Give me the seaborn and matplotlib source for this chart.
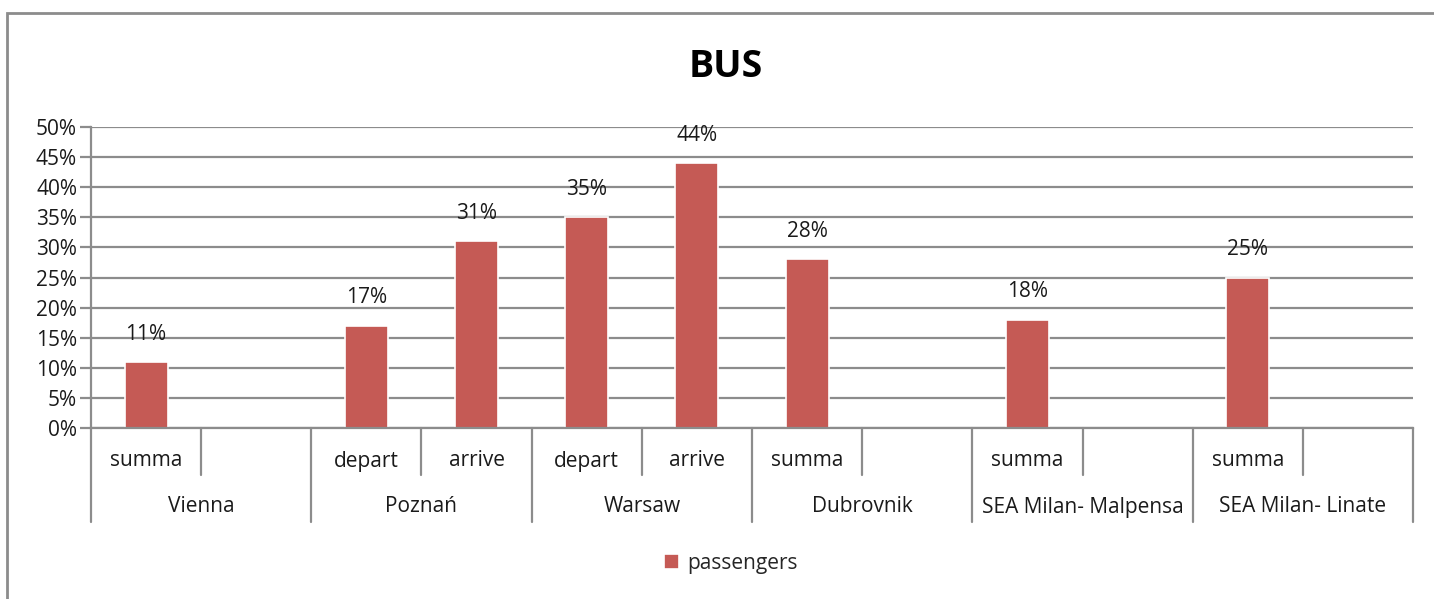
import pandas as pd
import seaborn as sns
import matplotlib as mpl
from matplotlib import pyplot as plt
from matplotlib.patches import Rectangle
from matplotlib.lines import Line2D

groups = ['Vienna', 'Poznań', 'Warsaw', 'Dubrovnik', 'SEA Milan- Malpensa', 'SEA Milan- Linate']
sub_labels = [['summa', ''], ['depart', 'arrive'], ['depart', 'arrive'],
              ['summa', ''], ['summa', ''], ['summa', '']]
bar_group = ['Vienna', 'Poznań', 'Poznań', 'Warsaw', 'Warsaw', 'Dubrovnik', 'SEA Milan- Malpensa', 'SEA Milan- Linate']
bar_sub = ['summa', 'depart', 'arrive', 'depart', 'arrive', 'summa', 'summa', 'summa']
passengers = [11, 17, 31, 35, 44, 28, 18, 25]

sns.set_style('white')
plt.rcParams['font.family'] = ['Open Sans', 'DejaVu Sans']

W, H = 1434, 599
fig = plt.figure(figsize=(W / 100, H / 100), dpi=100)
ax = fig.add_axes([91 / W, (H - 428) / H, (1413 - 91) / W, (428 - 127) / H])

# one slot per (group, sub) pair, empty slots kept via order
order = []
for g, subs in zip(groups, sub_labels):
    for i, s in enumerate(subs):
        order.append(g + '|' + (s if s else 'blank%d' % i))
df = pd.DataFrame({'slot': [g + '|' + s for g, s in zip(bar_group, bar_sub)],
                   'value': passengers})

red = '#C55A55'
sns.barplot(data=df, x='slot', y='value', order=order, color=red, saturation=1,
            width=0.39, edgecolor='white', linewidth=1.2, label='passengers', ax=ax)
if ax.get_legend() is not None:
    ax.get_legend().remove()

fs = 15
tc = '#1a1a1a'
ax.set_ylim(0, 50)
ax.set_xlim(-0.5, len(order) - 0.5)
ax.set_yticks(range(0, 51, 5))
ax.set_yticklabels(['%d%%' % v for v in range(0, 51, 5)], fontsize=fs, color=tc)
ax.yaxis.grid(True, color='#8c8c8c', linewidth=1.6)
ax.set_axisbelow(True)
ax.tick_params(axis='y', length=8, width=1.6, color='#8c8c8c', pad=2, left=True)
ax.tick_params(axis='x', bottom=False, labelbottom=False)
for side in ['top', 'right']:
    ax.spines[side].set_visible(False)
ax.spines['left'].set_color('#8c8c8c')
ax.spines['left'].set_linewidth(1.6)
ax.spines['bottom'].set_color('#8c8c8c')
ax.spines['bottom'].set_linewidth(1.6)
ax.set_xlabel('')
ax.set_ylabel('')

for p, v in zip(ax.patches, passengers):
    ax.annotate('%d%%' % v, (p.get_x() + p.get_width() / 2, p.get_height()),
                xytext=(0, 20), textcoords='offset points', ha='center', va='center',
                fontsize=fs, color=tc)

# multi-level category axis below the plot
trans = mpl.transforms.blended_transform_factory(ax.transData, fig.transFigure)
y0 = (H - 428) / H
y_sub = (H - 475) / H
y_grp = (H - 522) / H
gc = '#8c8c8c'
pos = 0
for g, subs in zip(groups, sub_labels):
    fig.add_artist(Line2D([pos - 0.5, pos - 0.5], [y0, y_grp], transform=trans, color=gc, lw=1.6))
    fig.add_artist(Line2D([pos + 0.5, pos + 0.5], [y0, y_sub], transform=trans, color=gc, lw=1.6))
    for i, s in enumerate(subs):
        if s:
            fig.text(pos + i, (H - 461) / H, s, transform=trans, ha='center', va='center',
                     fontsize=fs, color=tc)
    fig.text(pos + 0.5, (H - 507) / H, g, transform=trans, ha='center', va='center',
             fontsize=fs, color=tc)
    pos += len(subs)
fig.add_artist(Line2D([pos - 0.5, pos - 0.5], [y0, y_grp], transform=trans, color=gc, lw=1.6))

fig.text(726 / W, (H - 67) / H, 'BUS', ha='center', va='center', fontsize=27,
         fontweight='bold', color='black')

handles, labels = ax.get_legend_handles_labels()
fig.legend(handles[:1], labels[:1], loc='center', bbox_to_anchor=(731 / W, (H - 563) / H),
           frameon=False, fontsize=fs, handlelength=0.7, handleheight=0.7, handletextpad=0.4)

# outer chart frame
fig.add_artist(Rectangle((7 / W, -0.1), 1.2, (H - 13) / H + 0.1, transform=fig.transFigure,
                         fill=False, edgecolor='#8c8c8c', linewidth=2))

plt.savefig('out.png', dpi=100)
